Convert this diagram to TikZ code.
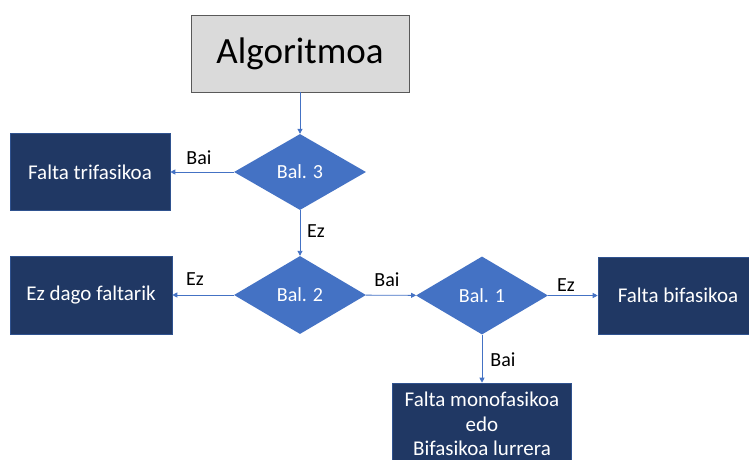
\documentclass[tikz,border=0pt]{standalone}
\usepackage{fontspec}
\setmainfont{Carlito}
\usetikzlibrary{shapes.geometric,arrows.meta}
\definecolor{startgray}{HTML}{DADADA}
\definecolor{startline}{HTML}{595959}
\definecolor{condblue}{HTML}{4472C4}
\definecolor{resnavy}{HTML}{203864}
\definecolor{resline}{HTML}{2F528F}
\tikzset{
  startbox/.style={rectangle, fill=startgray, draw=startline, line width=0.8pt,
    minimum width=218pt, minimum height=77pt, font=\fontsize{37}{40}\selectfont},
  cond/.style={diamond, fill=condblue, inner sep=0pt, minimum width=132pt,
    minimum height=78pt, text=white, font=\fontsize{20}{24}\selectfont},
  result/.style={rectangle, fill=resnavy, draw=resline, line width=0.6pt,
    minimum width=160pt, minimum height=77pt, text=white, align=center,
    font=\fontsize{21}{24.5}\selectfont},
  lbl/.style={inner sep=0pt, font=\fontsize{20}{24}\selectfont},
  flow/.style={draw=condblue, line width=0.9pt, -{Triangle[length=5pt,width=5pt]}}
}
\begin{document}
\begin{tikzpicture}[x=1pt,y=-1pt]
\useasboundingbox (0,0) rectangle (749,460);
\node[startbox] (alg) at (300,53.5){Algoritmoa};
\node[cond, minimum height=76pt] (bal3) at (300,172){Bal. 3};
\node[cond] (bal2) at (300,295){Bal. 2};
\node[cond] (bal1) at (482,295.5){Bal. 1};
\node[result] (tri) at (90,172){Falta trifasikoa};
\node[result, minimum width=162pt, minimum height=78pt] (none) at (91,295){Ez dago faltarik};
\node[result] (bi) at (678,295.5){Falta bifasikoa};
\node[result, minimum width=179pt, minimum height=82pt] (mono) at (482,424){Falta monofasikoa\\edo\\Bifasikoa lurrera};
\draw[flow](alg) -- (bal3);
\draw[flow](bal3) -- (tri);
\draw[flow](bal3) -- (bal2);
\draw[flow](bal2) -- (none);
\draw[flow](bal2) -- (bal1);
\draw[flow](bal1) -- (bi);
\draw[flow](bal1) -- (mono);
\node[lbl] (b3yes) at (199,158){Bai};
\node[lbl] (b3no) at (316,231){Ez};
\node[lbl] (b2no) at (195,279){Ez};
\node[lbl] (b2yes) at (387,280){Bai};
\node[lbl] (b1no) at (566,285){Ez};
\node[lbl] (b1yes) at (503,360){Bai};
\end{tikzpicture}
\end{document}
